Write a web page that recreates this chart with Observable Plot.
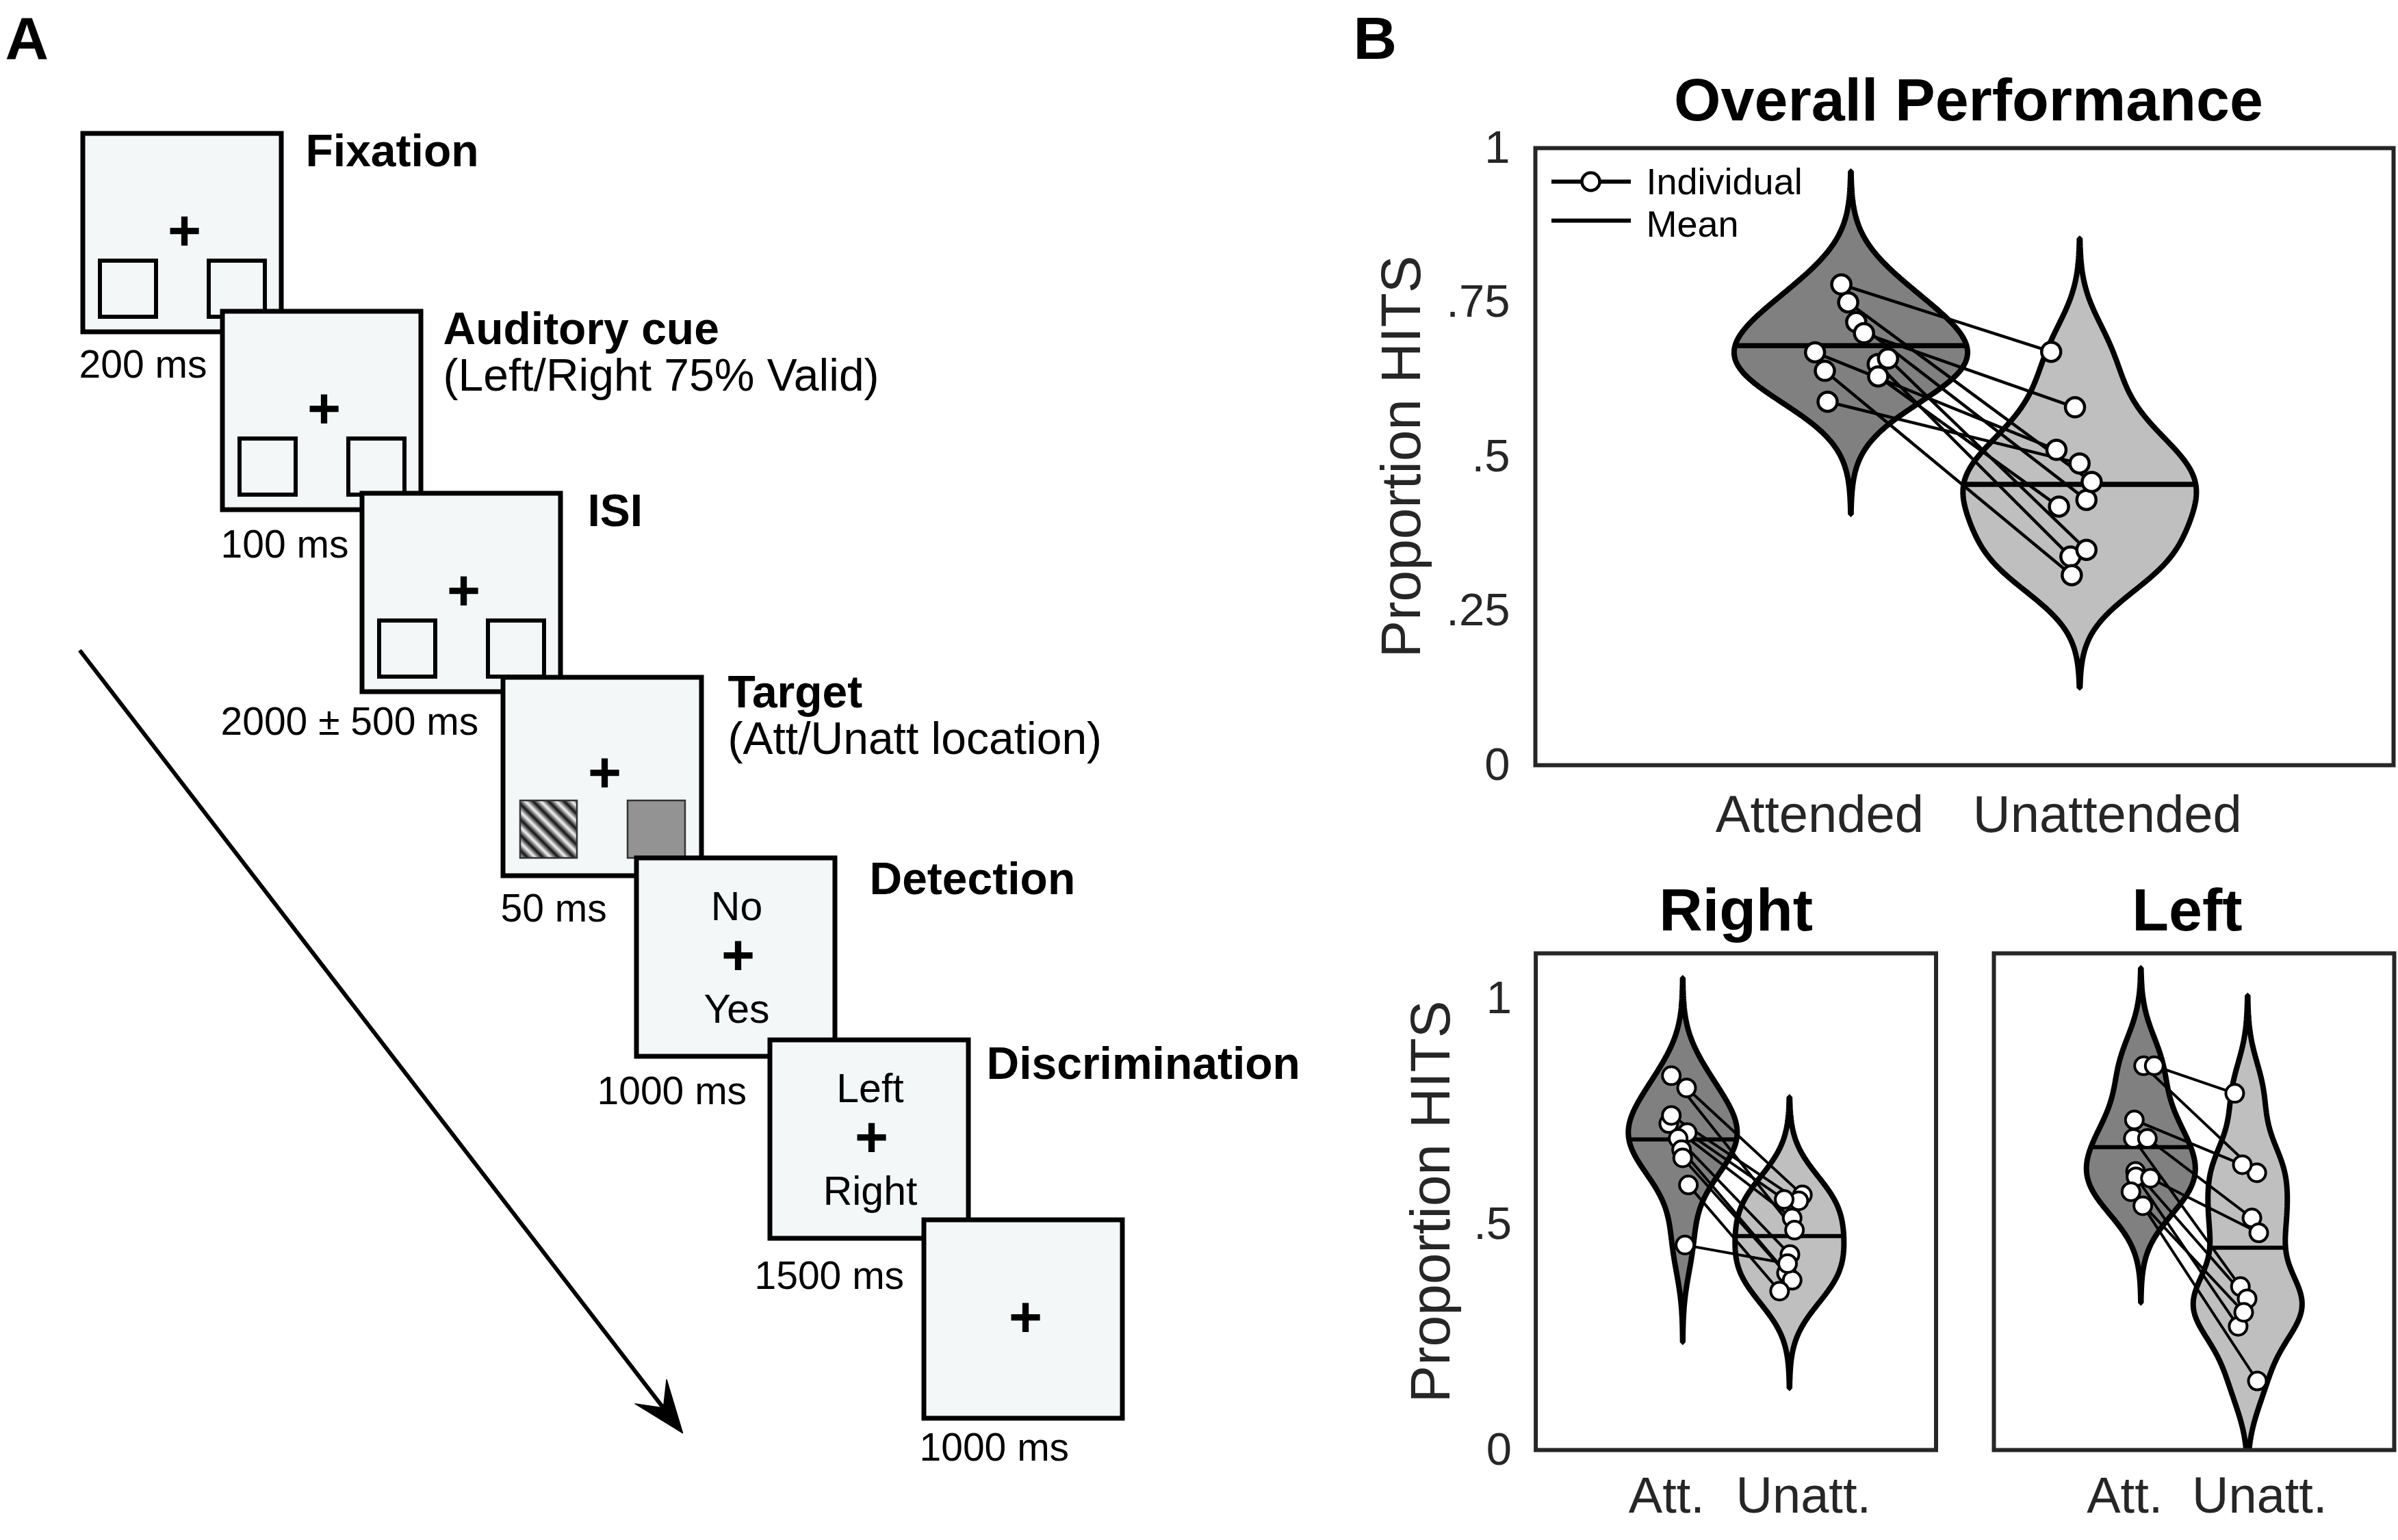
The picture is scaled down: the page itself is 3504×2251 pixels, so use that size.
<!DOCTYPE html>
<html>
<head>
<meta charset="utf-8">
<script src="https://cdn.jsdelivr.net/npm/d3@7"></script>
<script src="https://cdn.jsdelivr.net/npm/@observablehq/plot@0.6"></script>
<style>
  html, body { margin: 0; padding: 0; background: #fff; }
  #root { position: relative; width: 3504px; height: 2251px; overflow: hidden; background: #fff; }
  #root > div { position: absolute; }
  #root svg { overflow: visible; }
</style>
</head>
<body>
<div id="root"></div>
<script>
const FONT = '"Liberation Sans", Arial, Helvetica, sans-serif';

// ================= DATA =================
// Panel A – trial sequence
const stepTitles = ["Fixation", "Auditory cue", "ISI", "Target", "Detection", "Discrimination", ""];
const stepSubtitles = ["", "(Left/Right 75% Valid)", "", "(Att/Unatt location)", "", "", ""];
const stepDurations = ["200 ms", "100 ms", "2000 ± 500 ms", "50 ms", "1000 ms", "1500 ms", "1000 ms"];
const stepDisplays = ["placeholders", "placeholders", "placeholders", "target", "options", "options", "fixation"];
const stepOptions = [null, null, null, null, ["No", "Yes"], ["Left", "Right"], null];

// Panel B – proportion of hits, paired by subject
const conditionLabels = ["Attended", "Unattended"];
const conditionShort = ["Att.", "Unatt."];

const overallAtt         = [0.718, 0.650, 0.779, 0.750, 0.700, 0.669, 0.639, 0.589, 0.659, 0.630];
const overallUnatt       = [0.430, 0.338, 0.670, 0.459, 0.580, 0.511, 0.308, 0.489, 0.349, 0.419];
const overallAttJitter   = [0.022, 0.116, -0.043, -0.013, 0.056, -0.158, -0.115, -0.103, 0.161, 0.118];
const overallUnattJitter = [0.028, -0.042, -0.126, 0.051, -0.022, -0.103, -0.036, -0.002, 0.028, -0.092];
const overallMeans       = [0.680, 0.455];

const rightAtt         = [0.723, 0.829, 0.802, 0.741, 0.703, 0.690, 0.665, 0.647, 0.587, 0.454];
const rightUnatt       = [0.514, 0.487, 0.565, 0.552, 0.555, 0.433, 0.392, 0.376, 0.352, 0.413];
const rightAttJitter   = [-0.134, -0.110, 0.033, -0.110, 0.039, -0.046, -0.014, -0.004, 0.050, 0.018];
const rightUnattJitter = [0.022, 0.044, 0.118, 0.084, -0.053, 0.001, -0.031, 0.022, -0.096, -0.021];
const rightMeans       = [0.688, 0.474];

const leftAtt         = [0.851, 0.851, 0.731, 0.690, 0.690, 0.617, 0.605, 0.602, 0.572, 0.541];
const leftUnatt       = [0.614, 0.790, 0.632, 0.362, 0.514, 0.335, 0.274, 0.481, 0.305, 0.153];
const leftAttJitter   = [0.022, 0.122, -0.064, -0.074, 0.058, -0.053, -0.049, 0.086, -0.096, 0.015];
const leftUnattJitter = [0.083, -0.124, -0.053, -0.071, 0.037, -0.008, -0.092, 0.101, -0.040, 0.088];
const leftMeans       = [0.671, 0.448];

const overallTicks = [0, 0.25, 0.5, 0.75, 1];
const lateralTicks = [0, 0.5, 1];
const legendLabels = ["Individual", "Mean"];

// ================= STYLE / LAYOUT =================
const violinFills = ["#808080", "#bfbfbf"];
const axisColor = "#262626";
const frameFill = "#f3f7f8";
const FRAME = 290;
const frameOrigins   = [[121,195],[325,455],[529,721],[735,990],[930,1254],[1125,1520],[1350,1783]];
const titleAnchors   = [[446,242],[647,502],[858,768],[1063,1033],[1270,1306],[1441,1576],[0,0]];
const durationAnchors= [[115,551],[322,814],[322,1073],[731,1346],[872,1613],[1102,1883],[1343,2134]];

const root = document.getElementById("root");
function place(node, left, top) {
  const d = document.createElement("div");
  d.style.left = left + "px"; d.style.top = top + "px";
  d.appendChild(node); root.appendChild(d);
}

// ================= PANEL A =================
(function () {
  const W = 1960, H = 2251;
  const marks = [];
  const txt = (rows, opts) => Plot.text(rows, {x: "x", y: "y", text: "t", fontFamily: FONT, fill: "black", ...opts});
  stepDurations.forEach((dur, i) => {
    const [fx, fy] = frameOrigins[i];
    marks.push(Plot.rect([{x1: fx, x2: fx + FRAME, y1: fy, y2: fy + FRAME}],
      {x1: "x1", x2: "x2", y1: "y1", y2: "y2", fill: frameFill, stroke: "black", strokeWidth: 7}));
    const kind = stepDisplays[i];
    if (kind === "placeholders") {
      marks.push(Plot.rect([[25, 107], [184, 266]].map(([a, b]) => ({x1: fx + a, x2: fx + b, y1: fy + 186, y2: fy + 268})),
        {x1: "x1", x2: "x2", y1: "y1", y2: "y2", fill: frameFill, stroke: "black", strokeWidth: 6}));
    }
    if (kind === "target") {
      marks.push(Plot.rect([{x1: fx + 25, x2: fx + 108, y1: fy + 180, y2: fy + 264}],
        {x1: "x1", x2: "x2", y1: "y1", y2: "y2", fill: "#010203", stroke: "#333", strokeWidth: 2.5}));
      marks.push(Plot.rect([{x1: fx + 182, x2: fx + 266, y1: fy + 180, y2: fy + 264}],
        {x1: "x1", x2: "x2", y1: "y1", y2: "y2", fill: "#939393", stroke: "#333", strokeWidth: 2.5}));
    }
    const cy = kind === "target" ? 141 : 144;
    marks.push(txt([{x: fx + 148, y: fy + cy, t: "+"}], {fontSize: 84, fontWeight: "bold", lineAnchor: "middle"}));
    if (kind === "options") {
      const [o1, o2] = stepOptions[i];
      marks.push(txt([{x: fx + 146, y: fy + 90, t: o1}, {x: fx + 146, y: fy + 240, t: o2}],
        {fontSize: 59, lineAnchor: "bottom"}));
    }
  });
  // titles
  const titleRows = stepTitles.map((t, i) => ({x: titleAnchors[i][0], y: titleAnchors[i][1], t})).filter(d => d.t);
  marks.push(txt(titleRows, {fontSize: 66, fontWeight: "bold", textAnchor: "start", lineAnchor: "bottom"}));
  const subRows = stepSubtitles.map((t, i) => ({x: titleAnchors[i][0], y: titleAnchors[i][1] + 68, t})).filter(d => d.t);
  marks.push(txt(subRows, {fontSize: 66, textAnchor: "start", lineAnchor: "bottom"}));
  const durRows = stepDurations.map((t, i) => ({x: durationAnchors[i][0], y: durationAnchors[i][1], t}));
  marks.push(txt(durRows, {fontSize: 57, textAnchor: "start", lineAnchor: "bottom"}));
  // time arrow
  const start = [116, 950], tip = [997, 2094];
  const len = Math.hypot(tip[0] - start[0], tip[1] - start[1]);
  const u = [(tip[0] - start[0]) / len, (tip[1] - start[1]) / len], n = [-u[1], u[0]];
  const back = (d, w) => ({x: tip[0] - u[0] * d + n[0] * w, y: tip[1] - u[1] * d + n[1] * w});
  marks.push(Plot.link([{x1: start[0], y1: start[1], x2: tip[0] - u[0] * 45, y2: tip[1] - u[1] * 45}],
    {x1: "x1", y1: "y1", x2: "x2", y2: "y2", stroke: "black", strokeWidth: 6}));
  marks.push(Plot.line([{x: tip[0], y: tip[1]}, back(76, 29), back(46, 0), back(76, -29), {x: tip[0], y: tip[1]}],
    {x: "x", y: "y", fill: "black", stroke: "black", strokeWidth: 1.5}));
  // panel letter
  marks.push(txt([{x: 7, y: 85, t: "A"}], {fontSize: 88, fontWeight: "bold", textAnchor: "start", lineAnchor: "bottom"}));

  const svg = Plot.plot({
    width: W, height: H, margin: 0,
    x: {domain: [0, W], range: [0, W], axis: null},
    y: {domain: [0, H], range: [0, H], axis: null},
    style: {background: "transparent", overflow: "visible", fontFamily: FONT},
    marks
  });
  // sinusoidal grating fill
  const [gx, gy] = frameOrigins[3];
  const P = 16 / Math.SQRT2;
  const defs = d3.select(svg).insert("defs", ":first-child");
  const lg = defs.append("linearGradient").attr("id", "grating")
    .attr("gradientUnits", "userSpaceOnUse").attr("spreadMethod", "repeat")
    .attr("x1", gx + 25).attr("y1", gy + 264).attr("x2", gx + 25 + P).attr("y2", gy + 264 - P);
  [[0, "#f4f4f4"], [0.5, "#111111"], [1, "#f4f4f4"]].forEach(([o, c]) => lg.append("stop").attr("offset", o).attr("stop-color", c));
  d3.select(svg).selectAll('[fill="#010203"]').attr("fill", "url(#grating)");
  place(svg, 0, 0);
})();

// ================= PANEL B =================
function kdeProfile(values, bw, halfWidth) {
  const lo = d3.min(values) - 3 * bw, hi = d3.max(values) + 3 * bw;
  const dens = y => d3.sum(values, v => Math.exp(-0.5 * ((y - v) / bw) ** 2));
  const grid = d3.range(161).map(i => lo + (hi - lo) * i / 160);
  const f = grid.map(dens), fmax = d3.max(f);
  return {rows: grid.map((y, i) => ({y, w: f[i] / fmax * halfWidth})), widthAt: y => dens(y) / fmax * halfWidth};
}

const X_DOMAIN = [-0.38, 3.37];
const HALF_WIDTH = 0.51;

function violinPanel(c) {
  const fw = c.width - c.mL - c.mR, fh = c.height - c.mT - c.mB;
  const px2x = p => X_DOMAIN[0] + p * (X_DOMAIN[1] - X_DOMAIN[0]) / fw;
  const px2y = p => c.yDomain[1] - p * (c.yDomain[1] - c.yDomain[0]) / fh;
  const groups = [c.att, c.unatt];
  const profs = groups.map(v => kdeProfile(v, c.bw, HALF_WIDTH));
  const marks = [];
  profs.forEach((p, k) => marks.push(Plot.areaX(p.rows, {
    y: "y", x1: d => k + 1 - d.w, x2: d => k + 1 + d.w,
    fill: violinFills[k], stroke: "black", strokeWidth: c.violinSW, strokeLinejoin: "bevel", clip: true
  })));
  const meanRows = c.means.map((m, k) => ({y: m, x1: k + 1 - profs[k].widthAt(m), x2: k + 1 + profs[k].widthAt(m)}));
  marks.push(Plot.ruleY(meanRows, {y: "y", x1: "x1", x2: "x2", stroke: "black", strokeWidth: c.meanSW}));
  const pairs = c.att.map((a, i) => ({xa: 1 + c.attJ[i], ya: a, xu: 2 + c.unattJ[i], yu: c.unatt[i]}));
  marks.push(Plot.link(pairs, {x1: "xa", y1: "ya", x2: "xu", y2: "yu", stroke: "black", strokeWidth: c.linkSW}));
  const pts = [...pairs.map(p => ({x: p.xa, y: p.ya})), ...pairs.map(p => ({x: p.xu, y: p.yu}))];
  marks.push(Plot.dot(pts, {x: "x", y: "y", r: c.dotR, fill: "white", stroke: "black", strokeWidth: c.dotSW}));

  if (c.legend) {
    const L = c.legend;
    const lines = [{x1: px2x(L.x0), x2: px2x(L.x1), y: px2y(L.y[0])}, {x1: px2x(L.x0), x2: px2x(L.x1), y: px2y(L.y[1])}];
    marks.push(Plot.ruleY(lines, {y: "y", x1: "x1", x2: "x2", stroke: "black", strokeWidth: 6}));
    marks.push(Plot.dot([{x: px2x(L.xc), y: px2y(L.y[0])}], {x: "x", y: "y", r: 13, fill: "white", stroke: "black", strokeWidth: 4.5}));
    marks.push(Plot.text(legendLabels.map((t, i) => ({t, x: px2x(L.xt), y: px2y(L.base[i])})),
      {x: "x", y: "y", text: "t", fontSize: 54, textAnchor: "start", lineAnchor: "bottom", fill: "black", fontFamily: FONT}));
  }

  marks.push(Plot.frame({stroke: axisColor, strokeWidth: 6}));
  if (c.yTicks) {
    marks.push(Plot.axisY(c.yTicks, {
      anchor: "left", tickSize: 0, tickPadding: c.tickPad, fontSize: 67, fill: axisColor, label: null,
      tickFormat: d => d === 0 ? "0" : d === 1 ? "1" : String(d).replace(/^0/, "")
    }));
    marks.push(Plot.text(["Proportion HITS"], {frameAnchor: "left", rotate: -90, dx: c.yLabelDx, fontSize: 82,
      fill: axisColor, textAnchor: "middle", lineAnchor: "middle", fontFamily: FONT}));
  }
  c.xLabels.forEach((lab, k) => marks.push(Plot.text([lab], {
    x: () => k + 1, frameAnchor: "bottom", dy: c.xLabelDy, dx: c.xLabelDx[k], fontSize: c.xLabelSize,
    fill: axisColor, textAnchor: "middle", lineAnchor: "middle", fontFamily: FONT
  })));
  marks.push(Plot.text([c.title], {frameAnchor: "top", dx: c.titleDx, dy: c.titleDy, fontSize: 88, fontWeight: "bold",
    textAnchor: "middle", lineAnchor: "bottom", fill: "black", fontFamily: FONT}));
  if (c.letter) marks.push(Plot.text([c.letter], {frameAnchor: "top-left", dx: c.letterDx, dy: c.letterDy, fontSize: 88,
    fontWeight: "bold", textAnchor: "start", lineAnchor: "bottom", fill: "black", fontFamily: FONT}));

  return Plot.plot({
    width: c.width, height: c.height,
    marginLeft: c.mL, marginRight: c.mR, marginTop: c.mT, marginBottom: c.mB,
    x: {domain: X_DOMAIN, axis: null},
    y: c.yTicks ? {domain: c.yDomain} : {domain: c.yDomain, axis: null},
    style: {background: "transparent", overflow: "visible", fontFamily: FONT},
    marks
  });
}

// Overall performance (top)
place(violinPanel({
  att: overallAtt, unatt: overallUnatt, attJ: overallAttJitter, unattJ: overallUnattJitter, means: overallMeans,
  bw: 0.061, width: 1544, height: 1250, mL: 283, mR: 7, mT: 216, mB: 132, yDomain: [0, 1],
  yTicks: overallTicks, tickPad: 37, yLabelDx: -195,
  xLabels: conditionLabels, xLabelDx: [-46, 40], xLabelDy: 73, xLabelSize: 76,
  title: "Overall Performance", titleDx: 6, titleDy: -41,
  violinSW: 8, meanSW: 7.5, linkSW: 4.5, dotR: 14, dotSW: 4.5,
  legend: {x0: 24, x1: 140, xc: 81, xt: 162, y: [49, 106], base: [67, 129]},
  letter: "B", letterDx: -266, letterDy: -131
}), 1960, 0);

// Right
place(violinPanel({
  att: rightAtt, unatt: rightUnatt, attJ: rightAttJitter, unattJ: rightUnattJitter, means: rightMeans,
  bw: 0.072, width: 910, height: 1001, mL: 283.6, mR: 41.5, mT: 143, mB: 132, yDomain: [0, 1.1],
  yTicks: lateralTicks, tickPad: 35, yLabelDx: -152,
  xLabels: conditionShort, xLabelDx: [-24, 20], xLabelDy: 68, xLabelSize: 74,
  title: "Right", titleDx: 0, titleDy: -34,
  violinSW: 8, meanSW: 6, linkSW: 4, dotR: 13, dotSW: 4
}), 1960, 1250);

// Left
place(violinPanel({
  att: leftAtt, unatt: leftUnatt, attJ: leftAttJitter, unattJ: leftUnattJitter, means: leftMeans,
  bw: 0.072, width: 634, height: 1001, mL: 43, mR: 6, mT: 143, mB: 132, yDomain: [0, 1.1],
  yTicks: null,
  xLabels: conditionShort, xLabelDx: [-24, 17], xLabelDy: 68, xLabelSize: 74,
  title: "Left", titleDx: -10, titleDy: -34,
  violinSW: 8, meanSW: 6, linkSW: 4, dotR: 13, dotSW: 4
}), 2870, 1250);
</script>
</body>
</html>
